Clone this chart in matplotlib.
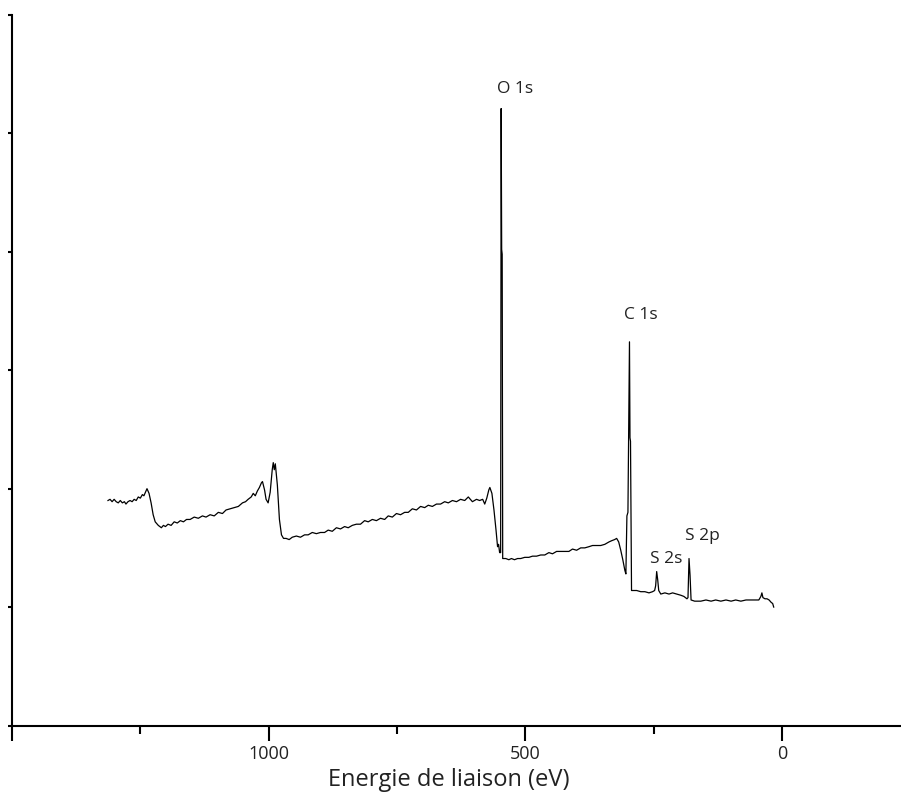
import matplotlib
matplotlib.use("Agg")
import matplotlib.pyplot as plt
from matplotlib.ticker import FixedLocator

# XPS survey spectrum: binding energy (eV) and intensity (arb. units)
energy = [
    1313, 1309, 1305, 1301, 1297, 1293, 1289, 1285, 1281, 1278, 1274, 1270,
    1266, 1262, 1258, 1254, 1250, 1246, 1243, 1239, 1237, 1233, 1229, 1225,
    1221, 1215, 1209, 1205, 1201, 1196, 1190, 1184, 1178, 1172, 1166, 1160,
    1153, 1145, 1137, 1129, 1122, 1114, 1106, 1098, 1090, 1083, 1075, 1067,
    1059, 1051, 1045, 1040, 1034, 1030, 1026, 1022, 1018, 1014, 1012, 1008,
    1005, 1001, 997, 993, 991, 989, 987, 983, 979, 975, 971, 966, 960,
    954, 946, 938, 930, 923, 915, 907, 899, 891, 884, 876, 868, 860, 852,
    845, 837, 829, 821, 813, 806, 798, 790, 782, 774, 767, 759, 751, 743,
    735, 728, 720, 712, 704, 696, 689, 681, 673, 665, 657, 650, 642, 634,
    626, 618, 611, 603, 595, 589, 583, 579, 575, 571, 569, 565, 561, 557,
    554, 552, 550, 548, 547, 546, 545, 544, 538, 532, 527, 521, 515, 509, 501,
    493, 486, 478, 470, 462, 454, 447, 439, 431, 423, 415, 408, 400, 392,
    384, 376, 369, 361, 353, 345, 337, 332, 326, 322, 318, 314, 310, 306,
    304, 302, 300, 297, 296, 295, 293, 291, 283, 275, 267, 259, 252, 248, 246, 244,
    242, 240, 236, 228, 220, 213, 205, 197, 191, 185, 183, 181, 179, 177,
    170, 158, 148, 138, 129, 119, 109, 99, 90, 80, 70, 60, 51, 45, 41, 39,
    37, 33, 29, 25, 21, 18, 16,
]
intensity = [
    1.90, 1.91, 1.89, 1.91, 1.89, 1.88, 1.90, 1.88, 1.89, 1.87, 1.89, 1.90,
    1.89, 1.91, 1.90, 1.93, 1.92, 1.95, 1.94, 1.98, 2.00, 1.96, 1.88, 1.78,
    1.72, 1.69, 1.67, 1.69, 1.68, 1.70, 1.69, 1.72, 1.71, 1.73, 1.72, 1.74,
    1.74, 1.76, 1.75, 1.77, 1.76, 1.78, 1.77, 1.80, 1.79, 1.82, 1.83, 1.84,
    1.85, 1.88, 1.89, 1.91, 1.93, 1.96, 1.94, 1.98, 2.01, 2.05, 2.06, 1.99,
    1.91, 1.88, 1.97, 2.16, 2.22, 2.16, 2.21, 2.03, 1.74, 1.61, 1.58, 1.58, 1.57,
    1.59, 1.60, 1.59, 1.61, 1.61, 1.63, 1.62, 1.63, 1.63, 1.65, 1.64, 1.67, 1.66, 1.68,
    1.67, 1.69, 1.70, 1.70, 1.73, 1.72, 1.74, 1.73, 1.75, 1.74, 1.77, 1.76, 1.79, 1.78,
    1.80, 1.80, 1.83, 1.82, 1.85, 1.84, 1.86, 1.85, 1.87, 1.87, 1.89, 1.88, 1.90, 1.89,
    1.91, 1.90, 1.93, 1.89, 1.91, 1.90, 1.91, 1.87, 1.92, 1.99, 2.01, 1.96, 1.82, 1.65,
    1.51, 1.53, 1.46, 1.46, 5.21, 4.02, 3.98, 1.41, 1.41, 1.40, 1.41, 1.40, 1.41, 1.41, 1.42,
    1.42, 1.43, 1.43, 1.44, 1.44, 1.46, 1.45, 1.47, 1.47, 1.47, 1.47, 1.49, 1.48, 1.50,
    1.50, 1.51, 1.52, 1.52, 1.52, 1.53, 1.55, 1.56, 1.57, 1.58, 1.55, 1.48, 1.40, 1.31,
    1.28, 1.77, 1.80, 3.24, 2.43, 2.40, 1.14, 1.14, 1.14, 1.13, 1.13, 1.12, 1.13, 1.14, 1.18, 1.30,
    1.23, 1.14, 1.11, 1.12, 1.11, 1.12, 1.11, 1.10, 1.09, 1.07, 1.08, 1.41, 1.27, 1.06,
    1.05, 1.05, 1.06, 1.05, 1.06, 1.05, 1.06, 1.05, 1.06, 1.05, 1.06, 1.06, 1.06, 1.06, 1.09, 1.12,
    1.08, 1.07, 1.07, 1.06, 1.04, 1.03, 1.00,
]

# Peak annotations: label, energy, height of label baseline
peak_labels = ["O 1s", "C 1s", "S 2s", "S 2p"]
peak_label_x = [519, 274, 226, 155]
peak_label_y = [5.31, 3.40, 1.34, 1.53]

x_major = [1500, 1000, 500, 0]
x_major_labels = ["", "1000", "500", "0"]
x_minor = [1250, 750, 250]
y_ticks = [0, 1, 2, 3, 4, 5, 6]

text_color = "#222222"
font = ["Open Sans", "DejaVu Sans"]

fig = plt.figure(figsize=(9.01, 7.93), dpi=100)
ax = fig.add_axes([12 / 901, 1 - 725.5 / 793, 889 / 901, 710.5 / 793])

ax.plot(energy, intensity, color="black", linewidth=0.9)

ax.set_xlim(1500, -232)
ax.set_ylim(0, 6)

for s in ("top", "right"):
    ax.spines[s].set_visible(False)
for s in ("left", "bottom"):
    ax.spines[s].set_linewidth(1.5)
    ax.spines[s].set_color("black")

ax.xaxis.set_major_locator(FixedLocator(x_major))
ax.set_xticklabels(x_major_labels, fontsize=13, color=text_color, family=font)
ax.xaxis.set_minor_locator(FixedLocator(x_minor))
ax.tick_params(axis="x", which="major", direction="out", length=11, width=1.5, pad=3)
ax.tick_params(axis="x", which="minor", direction="out", length=5.5, width=1.5)

ax.yaxis.set_major_locator(FixedLocator(y_ticks))
ax.set_yticklabels([])
ax.tick_params(axis="y", which="major", direction="out", length=3, width=1.5)

ax.set_xlabel("Energie de liaison (eV)", fontsize=17, color=text_color,
              family=font, labelpad=4)
ax.xaxis.label.set_x(0.4916)

for lab, lx, ly in zip(peak_labels, peak_label_x, peak_label_y):
    ax.text(lx, ly, lab, ha="center", va="bottom", fontsize=12.5,
            color=text_color, family=font)

fig.savefig("out.png", dpi=100)
